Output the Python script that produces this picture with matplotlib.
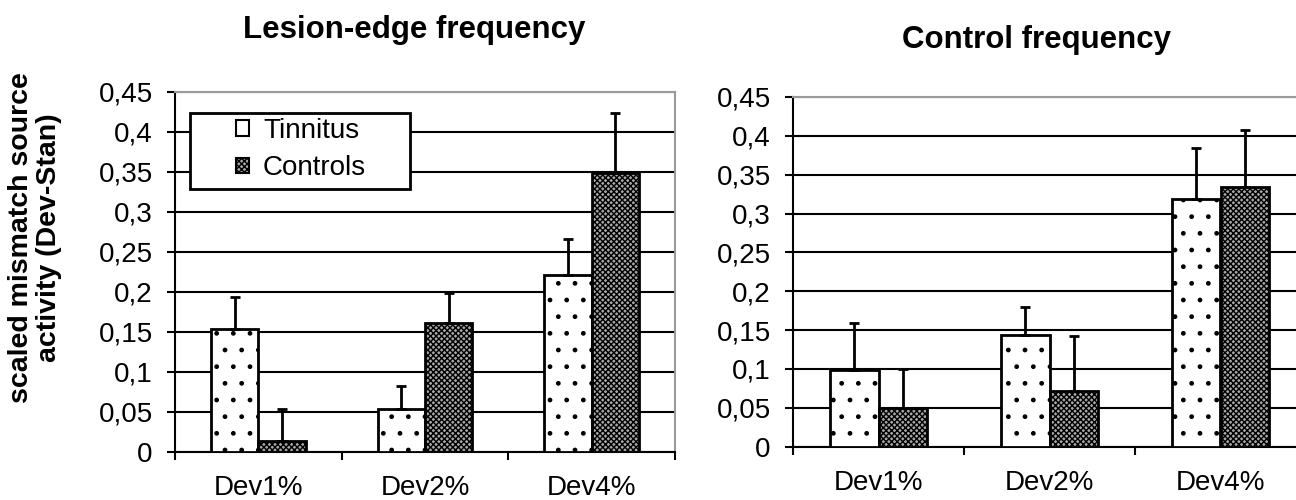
import matplotlib
matplotlib.use('Agg')
import matplotlib.pyplot as plt
import numpy as np
from matplotlib.patches import Rectangle

plt.rcParams['font.family'] = ['Liberation Sans', 'DejaVu Sans']
plt.rcParams['hatch.linewidth'] = 1.0

categories = ['Dev1%', 'Dev2%', 'Dev4%']
series = ['Tinnitus', 'Controls']

lesion_tinnitus = [0.154, 0.053, 0.221]
lesion_tinnitus_err = [0.040, 0.029, 0.045]
lesion_controls = [0.014, 0.161, 0.349]
lesion_controls_err = [0.039, 0.038, 0.075]

control_tinnitus = [0.099, 0.144, 0.319]
control_tinnitus_err = [0.060, 0.036, 0.065]
control_controls = [0.050, 0.072, 0.334]
control_controls_err = [0.050, 0.071, 0.073]

ytick_values = [0, 0.05, 0.10, 0.15, 0.20, 0.25, 0.30, 0.35, 0.40, 0.45]
ytick_labels = ['0', '0,05', '0,1', '0,15', '0,2', '0,25', '0,3', '0,35', '0,4', '0,45']
titles = ['Lesion-edge frequency', 'Control frequency']
ylabel = 'scaled mismatch source\nactivity (Dev-Stan)'

W, H = 1296, 500
fig = plt.figure(figsize=(W / 100, H / 100), dpi=100)

CONTROL_FACE = '#a8a8a8'


def px_axes(x0, x1, y_top, y_bot):
    return fig.add_axes([x0 / W, 1 - y_bot / H, (x1 - x0) / W, (y_bot - y_top) / H])


def draw(ax, tin, tin_err, con, con_err):
    x = np.arange(len(categories))
    w = 0.285
    b1 = ax.bar(x - w / 2, tin, w, facecolor='white', edgecolor='black',
                hatch='.', linewidth=2, zorder=3)
    b2 = ax.bar(x + w / 2, con, w, facecolor=CONTROL_FACE, edgecolor='black',
                hatch='xxxxxx', linewidth=2, zorder=3)
    z = np.zeros(len(categories))
    ax.errorbar(x - w / 2, tin, yerr=[z, tin_err], fmt='none', ecolor='black',
                elinewidth=2, capsize=3.5, capthick=2, zorder=4)
    ax.errorbar(x + w / 2, con, yerr=[z, con_err], fmt='none', ecolor='black',
                elinewidth=2, capsize=3.5, capthick=2, zorder=4)
    ax.set_xlim(-0.5, len(categories) - 0.5)
    ax.set_ylim(0, 0.45)
    ax.set_yticks(ytick_values, ytick_labels)
    ax.set_xticks(x, categories)
    ax.set_xticks(np.arange(len(categories) + 1) - 0.5, minor=True)
    ax.tick_params(axis='x', which='major', length=0, pad=17, labelsize=20)
    ax.tick_params(axis='x', which='minor', length=6, width=1.5, direction='out')
    ax.tick_params(axis='y', length=6, width=1.5, pad=10, labelsize=20)
    ax.yaxis.grid(True, color='black', linewidth=1.5)
    ax.set_axisbelow(True)
    for s in ['left', 'bottom']:
        ax.spines[s].set_linewidth(1.5)
        ax.spines[s].set_color('black')
    for s in ['top', 'right']:
        ax.spines[s].set_linewidth(1.5)
        ax.spines[s].set_color('#9a9a9a')
    return b1, b2


ax1 = px_axes(175, 675, 91.7, 451.7)
draw(ax1, lesion_tinnitus, lesion_tinnitus_err, lesion_controls, lesion_controls_err)

ax2 = px_axes(793, 1306, 97, 446.7)
draw(ax2, control_tinnitus, control_tinnitus_err, control_controls, control_controls_err)

# legend
frame = Rectangle((0.03, 0.729), 0.44, 0.212, transform=ax1.transAxes,
                  facecolor='white', edgecolor='black', linewidth=2, zorder=5)
ax1.add_patch(frame)
handles = [Rectangle((0, 0), 1, 1, facecolor='white', edgecolor='black', linewidth=1.5),
           Rectangle((0, 0), 1, 1, facecolor=CONTROL_FACE, edgecolor='black',
                     hatch='xxxxxx', linewidth=1.5)]
leg = ax1.legend(handles, series, loc='upper left', bbox_to_anchor=(0.122, 0.927),
                 frameon=False, fontsize=20, handlelength=0.47, handleheight=0.47,
                 handletextpad=0.5, labelspacing=0.4, borderpad=0, borderaxespad=0)
leg.set_zorder(6)

fig.text(414 / W, 1 - 30 / H, titles[0], ha='center', va='center',
         fontsize=22.5, fontweight='bold')
fig.text(1037 / W, 1 - 40 / H, titles[1], ha='center', va='center',
         fontsize=22.5, fontweight='bold')
fig.text(35 / W, 1 - 238 / H, ylabel, ha='center', va='center', rotation=90,
         fontsize=20.5, fontweight='bold', multialignment='center', linespacing=1.13)

fig.savefig('out.png', dpi=100)
